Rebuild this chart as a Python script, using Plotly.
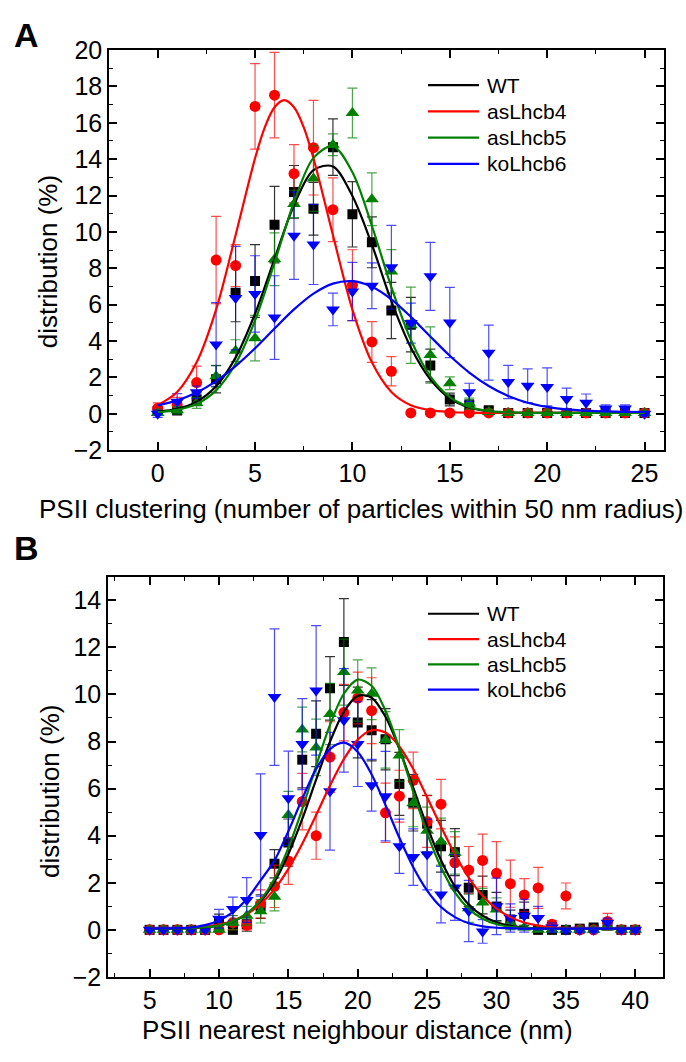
import plotly.graph_objects as go

# ---------------- Panel A: PSII clustering ----------------
clust_x = list(range(0, 26))

clust_wt = [0.15, 0.18, 0.80, 1.90, 6.66, 7.30, 10.40, 12.20, 11.27, 14.66, 10.97, 9.43, 5.68,
            4.90, 2.66, 0.79, 0.47, 0.20, 0.05, 0.05, 0.05, 0.05, 0.05, 0.05, 0.05, 0.05]
clust_wt_err = [0.15, 0.20, 0.35, 0.75, 1.60, 2.00, 2.10, 1.45, 1.45, 1.55, 1.80, 1.40, 1.55,
                1.50, 0.90, 0.35, 0.30, 0.15, 0.05, 0.05, 0.05, 0.05, 0.05, 0.05, 0.05, 0.05]
clust_lh4 = [0.30, 0.50, 1.72, 8.45, 8.15, 16.90, 17.52, 13.20, 14.63, 11.22, 7.07, 3.95, 2.34,
             0.05, 0.05, 0.05, 0.05, 0.05, 0.05, 0.05, 0.05, 0.05, 0.05, 0.05, 0.05, 0.05]
clust_lh4_err = [0.30, 0.40, 0.90, 2.40, 1.15, 2.35, 2.35, 1.60, 2.60, 1.75, 1.95, 1.12, 0.80,
                 0.05, 0.05, 0.05, 0.05, 0.05, 0.05, 0.05, 0.05, 0.05, 0.05, 0.05, 0.05, 0.05]
clust_lh5 = [0.05, 0.20, 0.60, 2.07, 3.47, 4.16, 8.50, 11.54, 12.93, 14.79, 16.54, 11.80, 7.83,
             4.87, 3.23, 1.68, 0.56, 0.10, 0.05, 0.05, 0.05, 0.05, 0.05, 0.05, 0.05, 0.05]
clust_lh5_err = [0.10, 0.20, 0.30, 0.60, 0.60, 1.25, 1.45, 0.75, 1.80, 0.60, 1.37, 1.45, 1.20,
                 2.10, 1.55, 0.35, 0.30, 0.10, 0.05, 0.05, 0.05, 0.05, 0.05, 0.05, 0.05, 0.05]
clust_lh6 = [0.00, 0.66, 1.18, 3.81, 6.36, 6.59, 5.29, 9.79, 9.31, 5.74, 6.72, 7.04, 8.06,
             4.99, 7.56, 5.02, 1.18, 3.36, 1.75, 1.54, 1.48, 0.82, 0.61, 0.29, 0.29, 0.00]
clust_lh6_err = [0.20, 0.45, 0.35, 2.30, 2.85, 2.10, 2.30, 2.40, 2.20, 0.90, 1.60, 1.26, 2.30,
                 1.10, 1.87, 1.93, 0.50, 1.51, 0.91, 0.93, 1.04, 0.59, 0.48, 0.20, 0.20, 0.10]

# Gaussian fit curves (the narrow asLhcb4 curve is sampled more finely around its peak)
clust_fit_x = list(range(0, 26))
clust_fit_lh4_x = [0, 1, 2, 3, 4, 5, 5.5, 6, 6.5, 7, 7.5] + list(range(8, 26))
clust_fit_wt = [0.12, 0.27, 0.67, 1.52, 3.09, 5.50, 8.52, 11.47, 13.40, 13.60, 11.97, 9.30, 6.20,
                3.65, 1.90, 0.85, 0.35, 0.14, 0.07, 0.05, 0.05, 0.05, 0.05, 0.05, 0.05, 0.05]
clust_fit_lh4 = [0.47, 1.20, 2.83, 5.73, 9.82, 14.05, 15.75, 16.85, 17.24, 16.85, 15.75,
                 14.05, 9.82, 5.73, 2.83, 1.20, 0.47, 0.20, 0.10, 0.06,
                 0.05, 0.05, 0.05, 0.05, 0.05, 0.05, 0.05, 0.05, 0.05]
clust_fit_lh5 = [0.10, 0.22, 0.54, 1.29, 2.75, 5.13, 8.31, 11.63, 14.07, 14.71, 13.28, 10.34, 6.97,
                 4.07, 2.06, 0.92, 0.38, 0.15, 0.08, 0.05, 0.05, 0.05, 0.05, 0.05, 0.05, 0.05]
clust_fit_lh6 = [0.46, 0.74, 1.17, 1.80, 2.62, 3.60, 4.69, 5.74, 6.61, 7.16, 7.29, 6.98, 6.29,
                 5.33, 4.25, 3.19, 2.27, 1.53, 0.98, 0.61, 0.38, 0.24, 0.17, 0.13, 0.11, 0.10]

# ---------------- Panel B: nearest neighbour distance ----------------
nnd_x = list(range(5, 41))

nnd_wt = [0.0, 0.0, 0.0, 0.0, 0.0, 0.37, 0.0, 0.24, 0.99, 2.81, 3.71, 7.23, 8.33, 10.26, 12.23,
          8.81, 8.48, 8.10, 6.20, 5.40, 4.51, 3.55, 3.30, 1.79, 1.48, 0.99, 0.44, 0.68, 0.0, 0.0,
          0.0, 0.05, 0.10, 0.20, 0.0, 0.0]
nnd_wt_err = [0.05, 0.05, 0.05, 0.05, 0.05, 0.30, 0.10, 0.30, 0.50, 0.60, 1.00, 1.20, 1.40, 1.35,
              1.84, 1.50, 1.30, 1.30, 1.34, 1.20, 1.20, 1.10, 1.00, 0.80, 0.80, 0.60, 0.40, 0.50,
              0.10, 0.10, 0.10, 0.10, 0.10, 0.20, 0.05, 0.05]
nnd_lh4 = [0.0, 0.0, 0.0, 0.0, 0.0, 0.0, 0.31, 0.20, 1.10, 1.85, 2.93, 5.45, 4.00, 7.34, 9.23,
           9.85, 9.31, 4.97, 5.68, 6.35, 4.60, 5.34, 2.85, 2.54, 2.95, 2.40, 1.96, 1.48, 1.78, 0.24,
           1.44, 0.0, 0.0, 0.35, 0.0, 0.0]
nnd_lh4_err = [0.05, 0.05, 0.05, 0.05, 0.05, 0.05, 0.30, 0.20, 0.60, 0.90, 1.00, 1.20, 1.00, 1.50,
               1.20, 1.10, 1.40, 1.26, 1.10, 1.20, 1.10, 1.05, 1.10, 1.00, 1.12, 1.35, 1.00, 0.70,
               0.87, 0.15, 0.55, 0.05, 0.05, 0.35, 0.05, 0.05]
nnd_lh5 = [0.0, 0.0, 0.0, 0.0, 0.0, 0.0, 0.30, 0.60, 0.79, 1.41, 4.88, 8.51, 7.75, 9.17, 10.95,
           10.17, 10.03, 8.07, 7.41, 5.38, 4.21, 3.75, 3.27, 0.92, 1.16, 0.86, 0.30, 0.10, 0.0, 0.0,
           0.0, 0.0, 0.0, 0.10, 0.0, 0.0]
nnd_lh5_err = [0.05, 0.05, 0.05, 0.05, 0.05, 0.05, 0.30, 0.40, 0.50, 0.60, 1.00, 0.95, 1.20, 1.30,
               1.40, 1.30, 1.10, 1.20, 1.10, 1.00, 1.00, 1.00, 0.90, 0.60, 0.60, 0.50, 0.30, 0.10,
               0.05, 0.05, 0.05, 0.05, 0.05, 0.05, 0.05, 0.05]
nnd_lh6 = [0.0, 0.0, 0.0, 0.0, 0.0, 0.47, 0.89, 1.27, 4.03, 9.89, 5.59, 7.89, 10.17, 5.89, 8.90,
           7.89, 6.14, 5.68, 3.55, 3.09, 3.20, 1.50, 1.80, 0.80, -0.07, 1.00, 0.50, 0.60, 0.50,
           0.10, 0.0, 0.0, 0.0, 0.30, 0.0, 0.0]
nnd_lh6_err = [0.05, 0.05, 0.05, 0.05, 0.05, 0.40, 0.50, 0.95, 2.60, 2.90, 2.00, 1.93, 2.75, 2.50,
               2.20, 1.80, 1.10, 1.90, 1.15, 1.20, 1.50, 1.20, 1.40, 1.30, 0.50, 1.20, 0.60, 0.70,
               0.50, 0.20, 0.10, 0.10, 0.10, 0.20, 0.10, 0.10]

nnd_fit_x = list(range(5, 41))
nnd_fit_wt = [0.05, 0.05, 0.06, 0.07, 0.11, 0.19, 0.36, 0.68, 1.21, 2.04, 3.22, 4.71, 6.38, 7.99,
              9.26, 9.94, 9.86, 9.05, 7.68, 6.04, 4.39, 2.96, 1.85, 1.08, 0.60, 0.32, 0.17, 0.10,
              0.07, 0.05, 0.05, 0.05, 0.05, 0.05, 0.05, 0.05]
nnd_fit_lh4 = [0.05, 0.06, 0.07, 0.09, 0.14, 0.23, 0.39, 0.66, 1.10, 1.73, 2.59, 3.66, 4.88, 6.13,
               7.25, 8.08, 8.48, 8.38, 7.79, 6.83, 5.63, 4.38, 3.21, 2.22, 1.45, 0.90, 0.54, 0.31,
               0.18, 0.11, 0.08, 0.06, 0.05, 0.05, 0.05, 0.05]
nnd_fit_lh5 = [0.05, 0.05, 0.06, 0.07, 0.11, 0.19, 0.36, 0.69, 1.27, 2.17, 3.48, 5.13, 6.97, 8.71,
               10.03, 10.63, 10.37, 9.31, 7.70, 5.86, 4.11, 2.66, 1.59, 0.89, 0.47, 0.24, 0.13, 0.08,
               0.05, 0.05, 0.05, 0.05, 0.05, 0.05, 0.05, 0.05]
nnd_fit_lh6 = [0.05, 0.06, 0.07, 0.10, 0.20, 0.40, 0.75, 1.30, 2.10, 2.95, 4.19, 5.57, 6.83, 7.68,
               7.95, 7.56, 6.60, 5.30, 3.91, 2.66, 1.67, 0.97, 0.54, 0.28, 0.15, 0.09, 0.07, 0.05,
               0.05, 0.05, 0.05, 0.05, 0.05, 0.05, 0.05, 0.05]

series_names = ["WT", "asLhcb4", "asLhcb5", "koLhcb6"]
colors = ["#000000", "#ff0000", "#008000", "#0000ff"]
err_colors = ["rgba(0,0,0,0.8)", "rgba(255,0,0,0.7)", "rgba(0,128,0,0.7)", "rgba(0,0,255,0.7)"]
symbols = ["square", "circle", "triangle-up", "triangle-down"]
sizes = [10, 11, 12, 12]

FONT = "Liberation Sans, Arial, sans-serif"
W, H = 686, 1062


def px_x(v):
    return v / W


def px_y(v):
    return 1 - v / H


fig = go.Figure()

panels = [
    dict(x=clust_x, xa="x", ya="y",
         means=[clust_wt, clust_lh4, clust_lh5, clust_lh6],
         errs=[clust_wt_err, clust_lh4_err, clust_lh5_err, clust_lh6_err],
         fit_x=[clust_fit_x, clust_fit_lh4_x, clust_fit_x, clust_fit_x],
         fits=[clust_fit_wt, clust_fit_lh4, clust_fit_lh5, clust_fit_lh6],
         key_rows=[73, 100, 127, 154]),
    dict(x=nnd_x, xa="x2", ya="y2",
         means=[nnd_wt, nnd_lh4, nnd_lh5, nnd_lh6],
         errs=[nnd_wt_err, nnd_lh4_err, nnd_lh5_err, nnd_lh6_err],
         fit_x=[nnd_fit_x] * 4,
         fits=[nnd_fit_wt, nnd_fit_lh4, nnd_fit_lh5, nnd_fit_lh6],
         key_rows=[616, 642, 668, 694]),
]

shapes = []
annotations = []
key_font = dict(family=FONT, size=21, color="black")

for p in panels:
    # measured distributions with error bars
    for i, name in enumerate(series_names):
        fig.add_trace(go.Scatter(
            x=p["x"], y=p["means"][i], mode="markers", name=name, showlegend=False,
            xaxis=p["xa"], yaxis=p["ya"],
            marker=dict(symbol=symbols[i], size=sizes[i], color=colors[i], line=dict(width=0)),
            error_y=dict(type="data", array=p["errs"][i], visible=True,
                         color=err_colors[i], thickness=1.2, width=5),
        ))
    # fitted curves
    for i, name in enumerate(series_names):
        fig.add_trace(go.Scatter(
            x=p["fit_x"][i], y=p["fits"][i], mode="lines", name=name, showlegend=False,
            xaxis=p["xa"], yaxis=p["ya"],
            line=dict(color=colors[i], width=2.2, shape="spline", smoothing=0.9),
        ))
    # key: line sample + label per fitted series
    for i, name in enumerate(series_names):
        yk = px_y(p["key_rows"][i])
        shapes.append(dict(type="line", xref="paper", yref="paper",
                           x0=px_x(428), x1=px_x(479), y0=yk, y1=yk,
                           line=dict(color=colors[i], width=2.2)))
        annotations.append(dict(text=name, x=px_x(485), y=yk, xref="paper", yref="paper",
                                xanchor="left", yanchor="middle", showarrow=False,
                                font=key_font))

axis_common = dict(
    showline=True, linecolor="black", linewidth=1.5, mirror="ticks",
    ticks="inside", ticklen=8, tickwidth=1.5, tickcolor="black",
    showgrid=False, zeroline=False,
    tickfont=dict(family=FONT, size=25, color="black"),
    minor=dict(ticks="inside", ticklen=4, tickwidth=1.2, tickcolor="black", showgrid=False),
)

fig.update_layout(
    width=W, height=H,
    margin=dict(l=0, r=0, t=0, b=0),
    paper_bgcolor="white", plot_bgcolor="white",
    font=dict(family=FONT, color="black"),
    showlegend=False,
    xaxis=dict(axis_common, domain=[px_x(109), px_x(664)], range=[-2.5, 26],
               tick0=0, dtick=5, minor=dict(axis_common["minor"], dtick=2.5, tick0=0),
               anchor="y"),
    yaxis=dict(axis_common, domain=[px_y(448), px_y(37)], range=[-2, 20],
               tick0=0, dtick=2, minor=dict(axis_common["minor"], dtick=1, tick0=0),
               anchor="x"),
    xaxis2=dict(axis_common, domain=[px_x(108), px_x(663)], range=[2, 42],
                tick0=0, dtick=5, minor=dict(axis_common["minor"], dtick=2.5, tick0=0),
                anchor="y2"),
    yaxis2=dict(axis_common, domain=[px_y(989), px_y(578)], range=[-2, 15],
                tick0=0, dtick=2, minor=dict(axis_common["minor"], dtick=1, tick0=0),
                anchor="x2"),
)

title_font = dict(family=FONT, size=26, color="black")
annotations += [
    dict(text="<b>A</b>", x=px_x(26), y=px_y(22)),
    dict(text="<b>B</b>", x=px_x(26), y=px_y(548)),
]
for a in annotations[-2:]:
    a.update(xref="paper", yref="paper", xanchor="center", yanchor="middle",
             showarrow=False, font=dict(family=FONT, size=34, color="black"))

for text, x, y, angle in [
    ("PSII clustering (number of particles within 50 nm radius)", 361, 508, 0),
    ("PSII nearest neighbour distance (nm)", 357, 1043, 0),
    ("distribution (%)", 48, 255, -90),
    ("distribution (%)", 50, 799, -90),
]:
    annotations.append(dict(text=text, x=px_x(x), y=px_y(y), xref="paper", yref="paper",
                            xanchor="center", yanchor="middle", textangle=angle,
                            showarrow=False, font=title_font))

fig.update_layout(shapes=shapes, annotations=annotations)

fig.write_html("out.html")
